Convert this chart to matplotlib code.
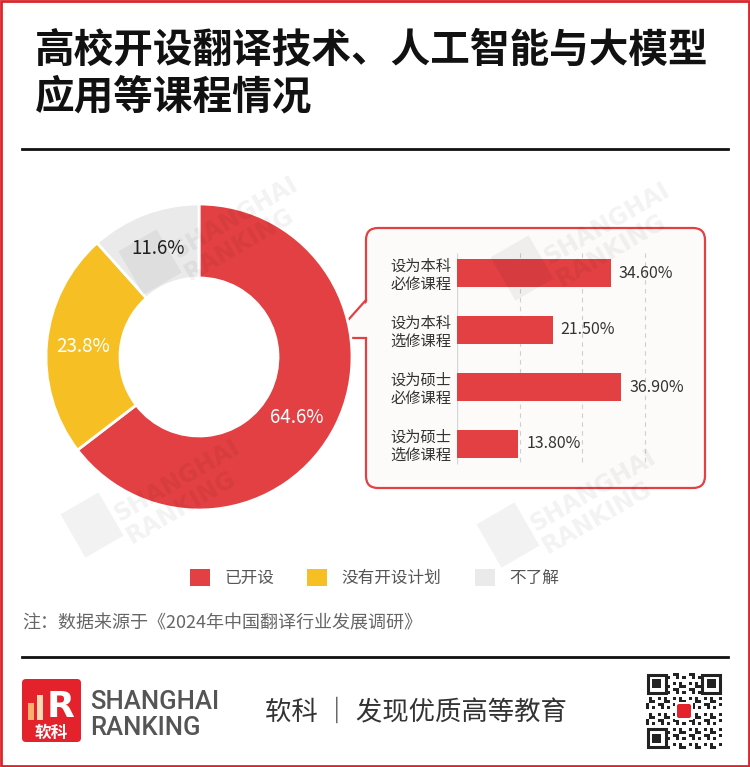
import numpy as np
import matplotlib
matplotlib.use("Agg")
import matplotlib.pyplot as plt
from matplotlib.patches import FancyBboxPatch, Rectangle, Polygon, Patch
from matplotlib.transforms import Affine2D

plt.rcParams['font.family'] = ['Noto Sans CJK SC', 'DejaVu Sans']

# data
pie_labels = ['已开设', '没有开设计划', '不了解']
pie_values = [64.6, 23.8, 11.6]
bar_labels = ['设为本科\n必修课程', '设为本科\n选修课程', '设为硕士\n必修课程', '设为硕士\n选修课程']
bar_values = [34.6, 21.5, 36.9, 13.8]

title_lines = ['高校开设翻译技术、人工智能与大模型', '应用等课程情况']
note_text = '注：数据来源于《2024年中国翻译行业发展调研》'
slogan = '软科 ｜ 发现优质高等教育'

RED = '#E24043'
YELLOW = '#F6C025'
GREY = '#EAEAEA'
W, H = 750, 767


def fig_box(x, y, w, h):
    # pixel box (top-left origin) -> figure fraction
    return [x / W, 1 - (y + h) / H, w / W, h / H]


fig = plt.figure(figsize=(W / 100, H / 100), dpi=100)

# overlay for decorations, pixel coordinates
deco = fig.add_axes([0, 0, 1, 1], zorder=0)
deco.set_xlim(0, W)
deco.set_ylim(H, 0)
deco.axis('off')

deco.add_patch(Rectangle((1, 1), W - 2, H - 2, fill=False, ec='#D9252B', lw=2))
deco.text(35, 50, title_lines[0], fontsize=28.5, fontweight='bold', va='center', color='#111111')
deco.text(35, 97, title_lines[1], fontsize=28.5, fontweight='bold', va='center', color='#111111')
deco.plot([22, 728], [149, 149], color='#111111', lw=2)
deco.plot([22, 728], [657, 657], color='#111111', lw=2)

# callout box
deco.add_patch(FancyBboxPatch((366, 228), 339, 260, boxstyle='round,pad=0,rounding_size=12',
                              fc='#FDFAFA', ec=RED, lw=1.6))
deco.add_patch(Polygon([(368, 301), (333, 338), (368, 338)], closed=True, fc='#FDFAFA', ec='none'))
deco.plot([366, 332, 366], [300, 338, 338], color=RED, lw=1.6, solid_joinstyle='miter')

deco.text(22, 623, note_text, fontsize=13, color='#666666', va='center')

# footer logo
deco.add_patch(FancyBboxPatch((22, 679), 59, 63, boxstyle='round,pad=0,rounding_size=4',
                              fc='#E3222C', ec='none'))
deco.add_patch(Rectangle((28, 703), 6, 17, fc='#F7B06E', ec='none'))
deco.add_patch(Rectangle((37, 695), 6, 25, fc='#FAD7B5', ec='none'))
deco.text(47, 707, 'R', fontsize=26, fontweight='bold', color='white', va='center', ha='left',
          family='DejaVu Sans')
deco.text(51.5, 733, '软科', fontsize=12, fontweight='bold', color='white', va='center', ha='center')
deco.text(90, 702, 'SHANGHAI', fontsize=18.5, color='#555555', va='center', family='Roboto',
          fontweight='medium')
deco.text(90, 728, 'RANKING', fontsize=18.5, color='#555555', va='center', family='Roboto',
          fontweight='medium')
deco.text(265, 712, slogan, fontsize=19, color='#333333', va='center')

# QR-like block
qx, qy, qs, n = 646, 673, 76, 25
m = qs / n
for i in range(n):
    for j in range(n):
        if (i * 7 + j * 13 + i * j) % 5 in (0, 2):
            deco.add_patch(Rectangle((qx + j * m, qy + i * m), m, m, fc='#222222', ec='none'))
for fx, fy in [(0, 0), (n - 7, 0), (0, n - 7)]:
    deco.add_patch(Rectangle((qx + fx * m, qy + fy * m), 7 * m, 7 * m, fc='white', ec='none'))
    deco.add_patch(Rectangle((qx + fx * m + 0.5 * m, qy + fy * m + 0.5 * m), 6 * m, 6 * m,
                             fc='none', ec='#222222', lw=2.2))
    deco.add_patch(Rectangle((qx + (fx + 2) * m, qy + (fy + 2) * m), 3 * m, 3 * m, fc='#222222', ec='none'))
deco.add_patch(Rectangle((qx + qs / 2 - 9, qy + qs / 2 - 9), 18, 18, fc='white', ec='none'))
deco.add_patch(FancyBboxPatch((qx + qs / 2 - 7, qy + qs / 2 - 7), 14, 14,
                              boxstyle='round,pad=0,rounding_size=2', fc='#E3222C', ec='none'))

# donut
cx, cy, R = 199, 357, 153
ax = fig.add_axes(fig_box(cx - 160, cy - 160, 320, 320), zorder=2)
lim = 160 / R
wedges, texts, autotexts = ax.pie(pie_values, colors=[RED, YELLOW, GREY], startangle=90,
                                  counterclock=False, radius=1, autopct='%.1f%%',
                                  pctdistance=0.758,
                                  wedgeprops=dict(width=1 - 79 / R, edgecolor='white', linewidth=2),
                                  textprops=dict(fontsize=13.5))
for t, c in zip(autotexts, ['white', 'white', '#222222']):
    t.set_color(c)
# the big slice's label sits a little below the middle of the slice
w0 = wedges[0]
ang = np.deg2rad((w0.theta1 + w0.theta2) / 2 - 5.5)
autotexts[0].set_position((0.755 * np.cos(ang), 0.755 * np.sin(ang)))
ax.set_xlim(-lim, lim)
ax.set_ylim(-lim, lim)
ax.set_aspect('equal')

# bars
px_per_unit = 4.45
bx = fig.add_axes(fig_box(457, 244.5, 50 * px_per_unit, 228), zorder=3)
bx.patch.set_alpha(0)
pos = np.arange(len(bar_values))
bx.set_xlim(0, 50)
bx.set_ylim(3.5, -0.5)
grid_step = 14.1
bx.vlines([grid_step * k for k in (1, 2, 3)], -0.35, 3.35, colors='#CFCFCF', linestyles=(0, (4, 4)), lw=0.8)
bx.vlines([0], -0.35, 3.35, colors='#D5D5D5', lw=1)
bx.barh(pos, bar_values, height=0.49, color=RED, zorder=3)
for p, v in zip(pos, bar_values):
    bx.text(v + 1.8, p, '%.2f%%' % v, va='center', ha='left', fontsize=11.5, color='#333333')
bx.set_yticks(pos, labels=bar_labels)
for lbl in bx.get_yticklabels():
    lbl.set_ha('left')
    lbl.set_linespacing(1.05)
    lbl.set_fontsize(11)
    lbl.set_color('#333333')
bx.tick_params(axis='y', length=0, pad=48.2)
bx.set_xticks([])
for s in bx.spines.values():
    s.set_visible(False)

# legend
handles = [Patch(fc=c, ec='none') for c in [RED, YELLOW, GREY]]
fig.legend(handles, pie_labels, loc='center left', bbox_to_anchor=(190 / W, 1 - 578 / H),
           ncol=3, frameon=False, fontsize=12, handlelength=1.2, handleheight=1.2,
           handletextpad=0.85, columnspacing=2.0, borderpad=0, borderaxespad=0,
           labelcolor='#555555')

# faint watermarks on top
wm = fig.add_axes([0, 0, 1, 1], zorder=5)
wm.set_xlim(0, W)
wm.set_ylim(H, 0)
wm.axis('off')


def watermark(x, y):
    wm.add_patch(Rectangle((x - 22, y - 25), 44, 50, fc='#000000', alpha=0.05, ec='none',
                           transform=Affine2D().rotate_deg_around(x, y, -30) + wm.transData))
    wm.text(x + 30, y + 2, 'SHANGHAI\nRANKING', fontsize=17, fontweight='bold', color='#000000',
            alpha=0.05, rotation=30, rotation_mode='anchor', ha='left', va='center',
            family='DejaVu Sans', linespacing=1.1)


for x, y in [(150, 262), (522, 268), (92, 525), (508, 535)]:
    watermark(x, y)

fig.savefig('out.png', dpi=100)
